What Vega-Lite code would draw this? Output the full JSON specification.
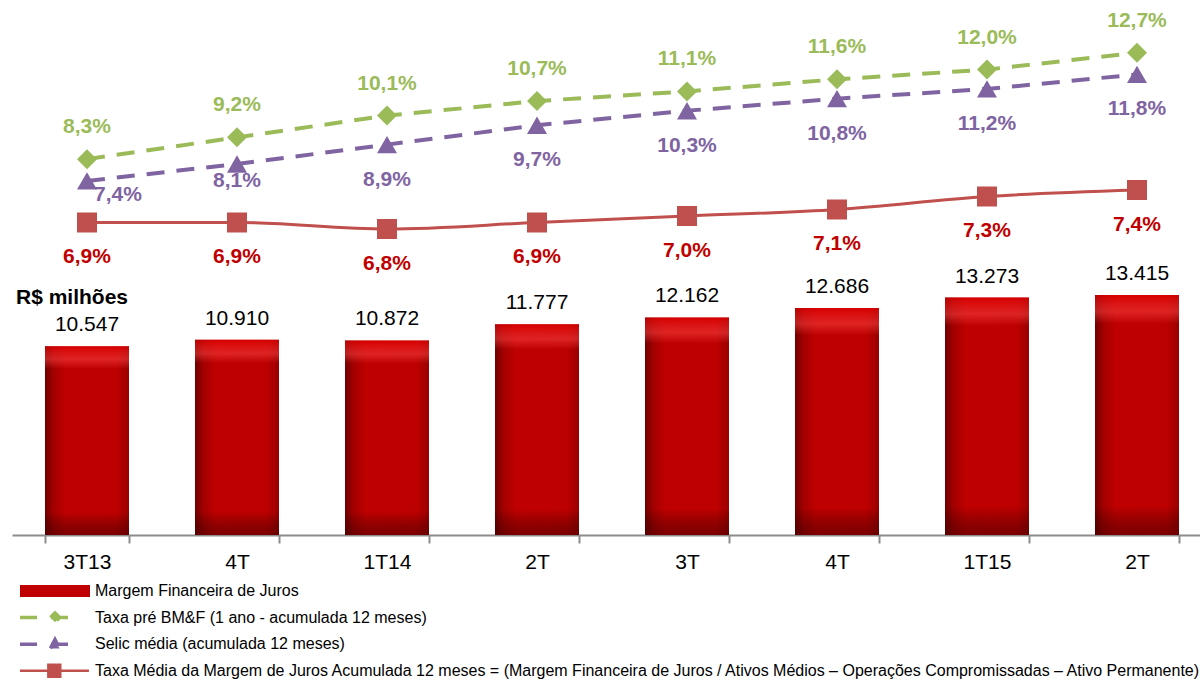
{
  "$schema": "https://vega.github.io/schema/vega-lite/v6.json",
  "width": 1200,
  "height": 535,
  "padding": {"left": 12, "top": 0, "right": 0, "bottom": 0},
  "config": {
    "locale": {"number": {"decimal": ",", "thousands": ".", "grouping": [3], "currency": ["R$ ", ""]}},
    "view": {"stroke": null},
    "font": "Liberation Sans"
  },
  "data": {
    "values": [
      {"q": "3T13", "margem": 10547, "bmf": 0.083, "selic": 0.074, "taxa": 0.069},
      {"q": "4T13", "margem": 10910, "bmf": 0.092, "selic": 0.081, "taxa": 0.069},
      {"q": "1T14", "margem": 10872, "bmf": 0.101, "selic": 0.089, "taxa": 0.068},
      {"q": "2T14", "margem": 11777, "bmf": 0.107, "selic": 0.097, "taxa": 0.069},
      {"q": "3T14", "margem": 12162, "bmf": 0.111, "selic": 0.103, "taxa": 0.070},
      {"q": "4T14", "margem": 12686, "bmf": 0.116, "selic": 0.108, "taxa": 0.071},
      {"q": "1T15", "margem": 13273, "bmf": 0.120, "selic": 0.112, "taxa": 0.073},
      {"q": "2T15", "margem": 13415, "bmf": 0.127, "selic": 0.118, "taxa": 0.074}
    ]
  },
  "encoding": {
    "x": {
      "field": "q", "type": "nominal", "sort": null,
      "scale": {"paddingInner": 0.44, "paddingOuter": 0.22},
      "axis": {
        "title": null, "labelAngle": 0, "labelFontSize": 21, "labelColor": "#000000",
        "labelPadding": 8, "domainColor": "#8c8c8c", "domainWidth": 2,
        "tickColor": "#8c8c8c", "tickWidth": 2, "tickSize": 8, "tickBand": "extent", "grid": false,
        "labelExpr": "indexof(['4T13','2T14','3T14','4T14','2T15'], datum.value) >= 0 ? slice(datum.value, 0, 2) : datum.value"
      }
    }
  },
  "layer": [
    {
      "mark": {"type": "bar", "color": {"gradient": "linear", "x1": 0, "y1": 0, "x2": 1, "y2": 0,
        "stops": [
          {"offset": 0, "color": "#6e0000"},
          {"offset": 0.1, "color": "#a30000"},
          {"offset": 0.25, "color": "#bf0000"},
          {"offset": 0.85, "color": "#bd0000"},
          {"offset": 1, "color": "#9a0000"}
        ]}},
      "encoding": {"y": {"field": "margem", "type": "quantitative", "scale": {"domain": [0, 29900]}, "axis": null}}
    },
    {
      "mark": {"type": "bar", "color": {"gradient": "linear", "x1": 0, "y1": 0, "x2": 0, "y2": 1,
        "stops": [
          {"offset": 0, "color": "rgba(230,0,0,0.6)"},
          {"offset": 0.07, "color": "rgba(255,70,70,0.5)"},
          {"offset": 0.12, "color": "rgba(255,70,70,0.0)"},
          {"offset": 0.88, "color": "rgba(0,0,0,0)"},
          {"offset": 1, "color": "rgba(60,0,0,0.5)"}
        ]}},
      "encoding": {"y": {"field": "margem", "type": "quantitative", "scale": {"domain": [0, 29900]}, "axis": null}}
    },
    {
      "mark": {"type": "text", "dy": -21, "fontSize": 21, "color": "#000000"},
      "encoding": {
        "y": {"field": "margem", "type": "quantitative", "scale": {"domain": [0, 29900]}, "axis": null},
        "text": {"field": "margem", "type": "quantitative", "format": ",.0f"}
      }
    },
    {
      "data": {"values": [{"q": "3T13", "margem": 10547}]},
      "mark": {"type": "text", "dy": -48, "dx": -15, "fontSize": 21, "fontWeight": "bold", "color": "#000000", "text": "R$ milhões"},
      "encoding": {"y": {"field": "margem", "type": "quantitative", "scale": {"domain": [0, 29900]}, "axis": null}}
    },
    {
      "mark": {"type": "line", "strokeDash": [18, 12], "strokeWidth": 4},
      "encoding": {
        "y": {"field": "bmf", "type": "quantitative", "scale": {"domain": [-0.07231, 0.14876]}, "axis": null},
        "color": {
          "datum": "Taxa pré BM&F (1 ano - acumulada 12 meses)", "type": "nominal",
          "scale": {
            "domain": [
              "Margem Financeira de Juros",
              "Taxa pré BM&F (1 ano - acumulada 12 meses)",
              "Selic média (acumulada 12 meses)",
              "Taxa Média da Margem de Juros Acumulada 12 meses = (Margem Financeira de Juros / Ativos Médios – Operações Compromissadas – Ativo Permanente)"
            ],
            "range": ["#C00000", "#9BBB59", "#8064A2", "#C0504D"]
          },
          "legend": {
            "orient": "none", "legendX": 5, "legendY": 581, "title": null, "direction": "vertical",
            "clipHeight": 20, "rowPadding": 6.6, "padding": 0,
            "labelFontSize": 16, "labelFont": "Liberation Sans", "labelColor": "#000000", "labelLimit": 3000,
            "symbolSize": 4900, "symbolOffset": 30, "labelOffset": 32,
            "encode": {
              "symbols": {
                "update": {
                  "shape": {"signal": "datum.index == 0 ? 'M-1,-0.17H1V0.17H-1Z' : datum.index == 1 ? 'M-1,0H0.49M-0.13,0L0,-0.13L0.13,0L0,0.13Z' : datum.index == 2 ? 'M-1,0H0.49M-0.13,0.12L0,-0.13L0.13,0.12Z' : 'M-1,0H0.97M-0.19,-0.17H0.15V0.17H-0.19Z'"},
                  "fill": {"signal": "datum.index == 0 ? '#C00000' : datum.index == 1 ? '#9BBB59' : datum.index == 2 ? '#8064A2' : '#C0504D'"},
                  "stroke": {"signal": "datum.index == 0 ? '#C00000' : datum.index == 1 ? '#9BBB59' : datum.index == 2 ? '#8064A2' : '#C0504D'"},
                  "strokeDash": {"signal": "datum.index == 1 || datum.index == 2 ? [17, 14] : [1, 0]"},
                  "strokeWidth": {"signal": "datum.index == 0 ? 0 : datum.index == 3 ? 2.5 : 3.5"},
                  "opacity": {"value": 1},
                  "fillOpacity": {"value": 1},
                  "size": {"value": 4900}
                }
              }
            }
          }
        }
      }
    },
    {
      "mark": {"type": "point", "shape": "diamond", "filled": true, "size": 400, "opacity": 1},
      "encoding": {
        "y": {"field": "bmf", "type": "quantitative", "scale": {"domain": [-0.07231, 0.14876]}, "axis": null},
        "color": {"datum": "Taxa pré BM&F (1 ano - acumulada 12 meses)", "type": "nominal"}
      }
    },
    {
      "mark": {"type": "text", "dy": -32, "fontSize": 21, "fontWeight": "bold", "color": "#9BBB59"},
      "encoding": {
        "y": {"field": "bmf", "type": "quantitative", "scale": {"domain": [-0.07231, 0.14876]}, "axis": null},
        "text": {"field": "bmf", "type": "quantitative", "format": ".1%"}
      }
    },
    {
      "mark": {"type": "line", "strokeDash": [18, 12], "strokeWidth": 4},
      "encoding": {
        "y": {"field": "selic", "type": "quantitative", "scale": {"domain": [-0.07231, 0.14876]}, "axis": null},
        "color": {"datum": "Selic média (acumulada 12 meses)", "type": "nominal"}
      }
    },
    {
      "mark": {"type": "point", "shape": "triangle-up", "filled": true, "size": 400, "opacity": 1},
      "encoding": {
        "y": {"field": "selic", "type": "quantitative", "scale": {"domain": [-0.07231, 0.14876]}, "axis": null},
        "color": {"datum": "Selic média (acumulada 12 meses)", "type": "nominal"}
      }
    },
    {
      "transform": [{"filter": "datum.q == '3T13'"}],
      "mark": {"type": "text", "dy": 14, "dx": 31, "fontSize": 21, "fontWeight": "bold", "color": "#8064A2"},
      "encoding": {
        "y": {"field": "selic", "type": "quantitative", "scale": {"domain": [-0.07231, 0.14876]}, "axis": null},
        "text": {"field": "selic", "type": "quantitative", "format": ".1%"}
      }
    },
    {
      "transform": [{"filter": "datum.q == '4T13'"}],
      "mark": {"type": "text", "dy": 17, "fontSize": 21, "fontWeight": "bold", "color": "#8064A2"},
      "encoding": {
        "y": {"field": "selic", "type": "quantitative", "scale": {"domain": [-0.07231, 0.14876]}, "axis": null},
        "text": {"field": "selic", "type": "quantitative", "format": ".1%"}
      }
    },
    {
      "transform": [{"filter": "datum.q != '3T13' && datum.q != '4T13'"}],
      "mark": {"type": "text", "dy": 35, "fontSize": 21, "fontWeight": "bold", "color": "#8064A2"},
      "encoding": {
        "y": {"field": "selic", "type": "quantitative", "scale": {"domain": [-0.07231, 0.14876]}, "axis": null},
        "text": {"field": "selic", "type": "quantitative", "format": ".1%"}
      }
    },
    {
      "mark": {"type": "line", "interpolate": "monotone", "strokeWidth": 3},
      "encoding": {
        "y": {"field": "taxa", "type": "quantitative", "scale": {"domain": [0.020923, 0.10323]}, "axis": null},
        "color": {"datum": "Taxa Média da Margem de Juros Acumulada 12 meses = (Margem Financeira de Juros / Ativos Médios – Operações Compromissadas – Ativo Permanente)", "type": "nominal"}
      }
    },
    {
      "mark": {"type": "point", "shape": "square", "filled": true, "size": 400, "opacity": 1},
      "encoding": {
        "y": {"field": "taxa", "type": "quantitative", "scale": {"domain": [0.020923, 0.10323]}, "axis": null},
        "color": {"datum": "Taxa Média da Margem de Juros Acumulada 12 meses = (Margem Financeira de Juros / Ativos Médios – Operações Compromissadas – Ativo Permanente)", "type": "nominal"}
      }
    },
    {
      "mark": {"type": "text", "dy": 35, "fontSize": 21, "fontWeight": "bold", "color": "#C00000"},
      "encoding": {
        "y": {"field": "taxa", "type": "quantitative", "scale": {"domain": [0.020923, 0.10323]}, "axis": null},
        "text": {"field": "taxa", "type": "quantitative", "format": ".1%"}
      }
    }
  ],
  "resolve": {"scale": {"y": "independent"}}
}
